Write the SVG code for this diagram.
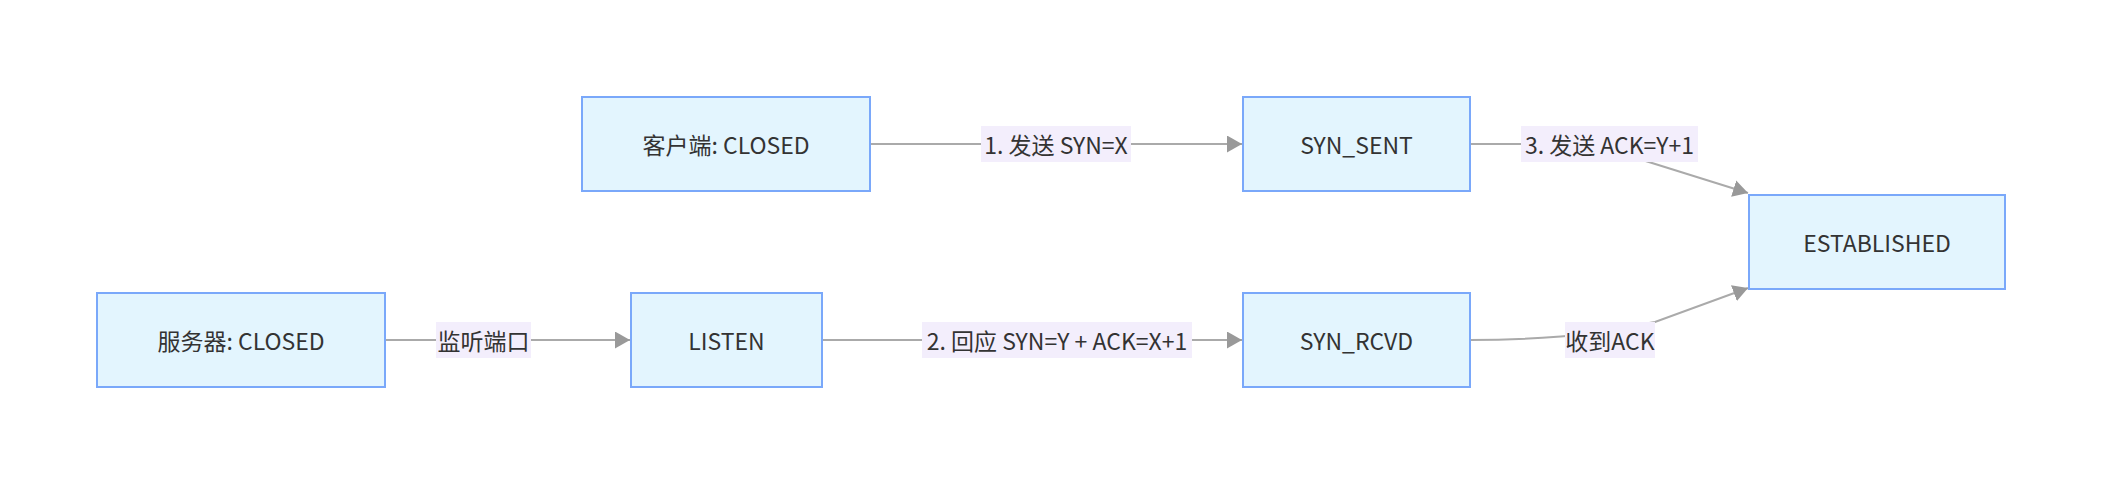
<svg xmlns="http://www.w3.org/2000/svg" width="2102" height="484" viewBox="0 0 2102 484">
<style>
.node rect{fill:#e3f5fe;stroke:#7aa8fa;stroke-width:2}
text{font-family:"Noto Sans CJK SC","Noto Sans",sans-serif;font-size:23px;fill:#333333;text-anchor:middle;dominant-baseline:central}
.edge{fill:none;stroke:#aaaaaa;stroke-width:2}
.lbl rect{fill:#f3eefc;stroke:none}
</style>
<defs>
<marker id="arr" viewBox="0 0 15 17" refX="15" refY="8.5" markerWidth="15" markerHeight="17" markerUnits="userSpaceOnUse" orient="auto">
<path d="M0,0 L15,8.5 L0,17 z" fill="#999999"/>
</marker>
</defs>
<rect width="2102" height="484" fill="#ffffff"/>
<g id="edges">
<path class="edge" d="M871,144 L1242,144" marker-end="url(#arr)"/>
<path class="edge" d="M1470,144 L1540,144 C1580,144 1600,147 1636,158 L1748,193" marker-end="url(#arr)"/>
<path class="edge" d="M385,340 L630,340" marker-end="url(#arr)"/>
<path class="edge" d="M822,340 L1242,340" marker-end="url(#arr)"/>
<path class="edge" d="M1470,340 C1530,340 1550,337 1580,335 L1655,322 L1748,288" marker-end="url(#arr)"/>
</g>
<g id="edge-labels">
<g class="lbl"><rect x="981" y="126" width="150" height="36"/><text x="1056" y="144">1. 发送 SYN=X</text></g>
<g class="lbl"><rect x="1521" y="126" width="177" height="36"/><text x="1609.5" y="144">3. 发送 ACK=Y+1</text></g>
<g class="lbl"><rect x="436" y="322" width="95" height="36"/><text x="483.5" y="340">监听端口</text></g>
<g class="lbl"><rect x="922" y="322" width="270" height="36"/><text x="1057" y="340">2. 回应 SYN=Y + ACK=X+1</text></g>
<g class="lbl"><rect x="1565" y="322" width="90" height="36"/><text x="1610" y="340">收到ACK</text></g>
</g>
<g id="client" class="node"><rect x="582" y="97" width="288" height="94"/><text x="726" y="144">客户端: CLOSED</text></g>
<g id="syn_sent" class="node"><rect x="1243" y="97" width="227" height="94"/><text x="1356.5" y="144">SYN_SENT</text></g>
<g id="established" class="node"><rect x="1749" y="195" width="256" height="94"/><text x="1877" y="242">ESTABLISHED</text></g>
<g id="server" class="node"><rect x="97" y="293" width="288" height="94"/><text x="241" y="340">服务器: CLOSED</text></g>
<g id="listen" class="node"><rect x="631" y="293" width="191" height="94"/><text x="726.5" y="340">LISTEN</text></g>
<g id="syn_rcvd" class="node"><rect x="1243" y="293" width="227" height="94"/><text x="1356.5" y="340">SYN_RCVD</text></g>
</svg>
